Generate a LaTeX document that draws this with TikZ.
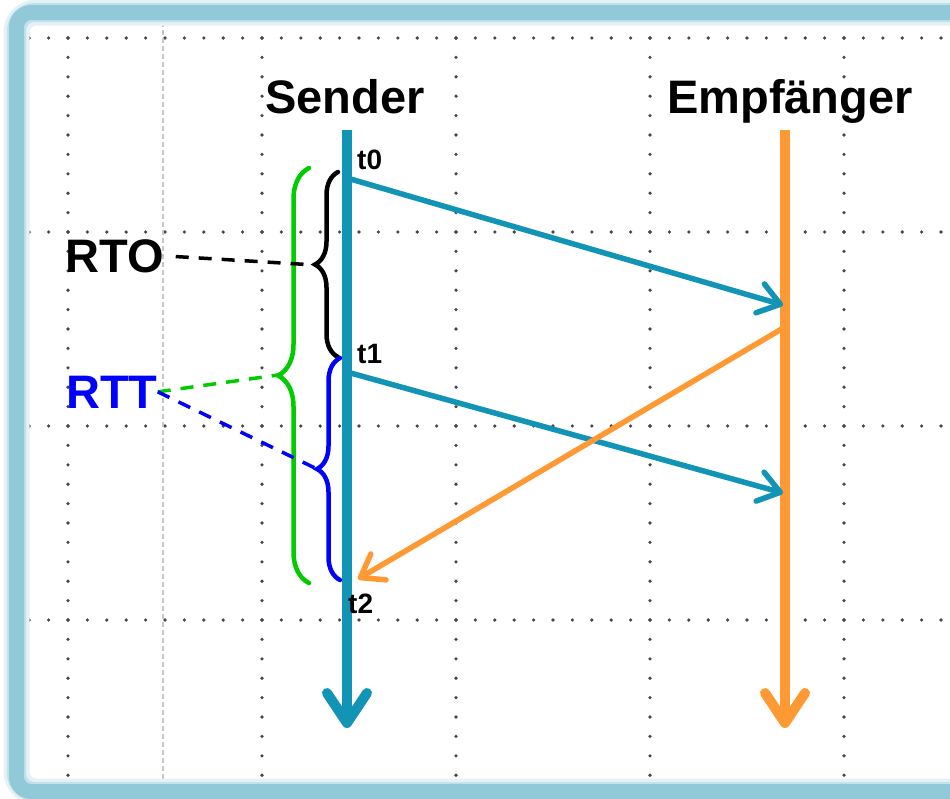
\documentclass[tikz,border=0pt]{standalone}
\usepackage{fontspec}
\setmainfont{Liberation Sans}
\usetikzlibrary{arrows.meta,decorations.pathreplacing}
\definecolor{sblue}{RGB}{17,148,182}
\definecolor{eorange}{RGB}{255,153,51}
\definecolor{frameblue}{RGB}{146,201,216}
\definecolor{rgreen}{RGB}{0,204,0}
\definecolor{rblue}{RGB}{0,0,255}
\definecolor{dotgray}{RGB}{70,70,70}
\begin{document}
\begin{tikzpicture}[x=1pt,y=-1pt,
  lifeline/.style={line width=10pt,-{Straight Barb[length=30pt,width=40pt,round]}},
  msg/.style={line width=5.5pt,-{Straight Barb[length=21pt,width=30pt,round]}},
  head/.style={font=\fontsize{47}{52}\selectfont\bfseries, inner sep=0pt},
  tlabel/.style={font=\fontsize{28}{32}\selectfont\bfseries, inner sep=0pt, anchor=base west},
  bracestyle/.style={decorate, decoration={brace, amplitude=#1}, line width=4.5pt, line cap=round},
  lead/.style={line width=3.5pt, dash pattern=on 13pt off 10pt},
  griddot/.style={fill=dotgray},
]
\useasboundingbox (0,0) rectangle (950,798);
% background and grid
\fill[white] (0,0) rectangle (950,798);
\foreach \x in {68,262,456,650,844}
  \foreach \k in {0,...,40}
    \fill[griddot] (\x,{18.6+\k*19.4}) circle (1.8);
\foreach \y in {38,232,426,620}
  \foreach \k in {0,...,47}
    \fill[griddot] ({29.2+\k*19.4},\y) circle (1.8);
\draw[gray!45, line width=2pt, dash pattern=on 5pt off 3pt] (163,22) -- (163,785);
% frame
\draw[frameblue!25, line width=26pt, rounded corners=20pt] (16.5,12.5) rectangle (970,791.5);
\draw[frameblue!55, line width=19pt, rounded corners=18pt] (16.5,12.5) rectangle (970,791.5);
\draw[frameblue, line width=15pt, rounded corners=15pt] (16.5,12.5) rectangle (970,791.5);
% headings
\node[head, anchor=base] (sender) at (345,113) {Sender};
\node[head, anchor=base] (empf) at (790,113) {Empfänger};
% lifelines
\coordinate (sTop) at (347,130);
\coordinate (sBot) at (347,728);
\coordinate (eTop) at (785,130);
\coordinate (eBot) at (785,728);
\draw[lifeline, sblue] (sTop) -- (sBot);
\draw[lifeline, eorange] (eTop) -- (eBot);
% messages
\coordinate (m1s) at (347,178);
\coordinate (m1e) at (783,305);
\coordinate (m2s) at (347,372);
\coordinate (m2e) at (783,493);
\coordinate (m3s) at (785,327);
\coordinate (m3e) at (358,579);
\draw[msg, sblue] (m1s) -- (m1e);
\draw[msg, sblue] (m2s) -- (m2e);
\draw[msg, eorange] (m3s) -- (m3e);
% time labels
\node[tlabel] (t0) at (357,169) {t0};
\node[tlabel] (t1) at (357,363) {t1};
\node[tlabel] (t2) at (348,613) {t2};
% braces
\draw[bracestyle=23, black] (338,357) -- (338,172);
\draw[bracestyle=23, rblue] (340,580) -- (340,358);
\draw[bracestyle=31, rgreen] (309,583) -- (309,168);
\coordinate (rtoTip) at (315,265);
\coordinate (rttBlueTip) at (317,469);
\coordinate (rttGreenTip) at (278,375);
% labels
\node[head, anchor=base west] (rto) at (65,272) {RTO};
\node[head, anchor=base west, text=rblue] (rtt) at (66,408) {RTT};
\draw[lead, black, shorten <=12pt, shorten >=10pt] (rto.east) -- (rtoTip);
\draw[lead, rgreen] (rtt.east) -- (rttGreenTip);
\draw[lead, rblue] (rtt.east) -- (rttBlueTip);
\end{tikzpicture}
\end{document}
